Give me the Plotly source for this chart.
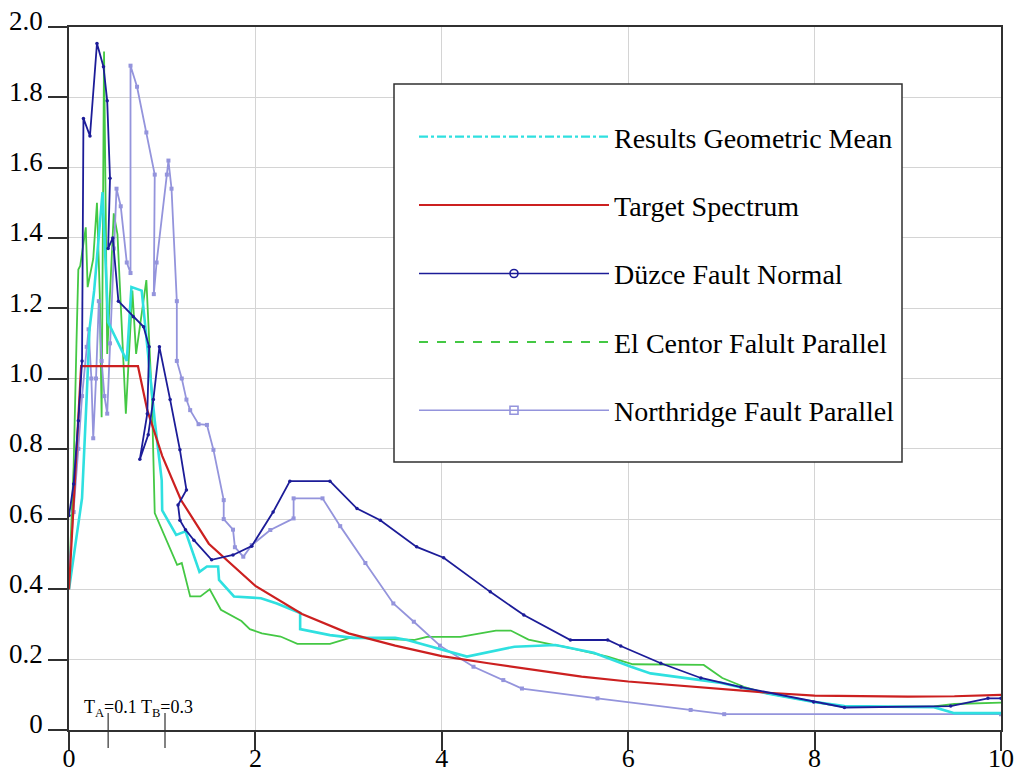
import plotly.graph_objects as go

# ---------------- data ----------------
target_T = [0, 0.13, 0.74, 0.84, 1.0, 1.2, 1.5, 2.0, 2.5, 3.0, 3.5, 4.0, 4.5, 5.0, 5.5,
            6.0, 6.5, 7.0, 7.5, 8.0, 8.5, 9.0, 9.5, 10.0]
target_Sa = [0.40, 1.035, 1.035, 0.91, 0.78, 0.655, 0.53, 0.41, 0.33, 0.275, 0.24, 0.21, 0.19,
             0.17, 0.152, 0.138, 0.127, 0.117, 0.106, 0.098, 0.096, 0.095, 0.096, 0.10]

mean_T = [0, 0.14, 0.19, 0.22, 0.27, 0.36, 0.42, 0.62, 0.67, 0.78, 0.92, 0.995, 1.0, 1.15, 1.25,
          1.40, 1.48, 1.60, 1.61, 1.77, 2.06, 2.23, 2.48, 2.48, 2.80, 3.05, 3.50, 3.63, 4.27,
          4.78, 5.22, 5.63, 6.03, 6.24, 6.78, 7.0, 7.49, 7.99, 8.32, 9.28, 9.5, 10.0]
mean_Sa = [0.40, 0.66, 0.95, 1.14, 1.25, 1.53, 1.16, 1.05, 1.26, 1.25, 0.88, 0.71, 0.625, 0.555,
           0.565, 0.45, 0.465, 0.465, 0.427, 0.38, 0.375, 0.36, 0.333, 0.287, 0.27, 0.262, 0.262,
           0.256, 0.209, 0.237, 0.242, 0.22, 0.18, 0.161, 0.142, 0.134, 0.104, 0.08, 0.068,
           0.065, 0.048, 0.048]

duzce_T = [0, 0.05, 0.10, 0.14, 0.155, 0.225, 0.30, 0.37, 0.41, 0.44, 0.42, 0.47, 0.53, 0.69,
           0.80, 0.86, 0.84, 0.76, 0.85, 0.905, 0.97, 1.085, 1.19, 1.26, 1.17, 1.19, 1.25, 1.34,
           1.53, 1.76, 1.96, 2.19, 2.37, 2.80, 3.09, 3.34, 3.73, 4.02, 4.52, 4.88, 5.38, 5.78,
           5.92, 6.35, 6.78, 7.21, 7.99, 8.32, 9.46, 9.86, 10.0]
duzce_Sa = [0.61, 0.70, 0.88, 1.05, 1.74, 1.69, 1.953, 1.887, 1.79, 1.57, 1.37, 1.40, 1.22,
            1.176, 1.147, 1.09, 0.90, 0.77, 0.84, 0.94, 1.09, 0.94, 0.797, 0.683, 0.64, 0.597,
            0.57, 0.54, 0.484, 0.498, 0.523, 0.62, 0.708, 0.708, 0.63, 0.597, 0.521, 0.49,
            0.393, 0.327, 0.256, 0.256, 0.239, 0.19, 0.148, 0.122, 0.08, 0.064, 0.068, 0.09, 0.09]

elcentro_T = [0, 0.05, 0.08, 0.10, 0.12, 0.18, 0.20, 0.26, 0.30, 0.33, 0.35, 0.376, 0.41, 0.48,
              0.52, 0.61, 0.68, 0.72, 0.83, 0.89, 0.92, 1.16, 1.21, 1.30, 1.41, 1.51, 1.63,
              1.85, 1.94, 2.07, 2.27, 2.45, 2.80, 3.02, 3.70, 3.84, 4.20, 4.58, 4.74, 4.93,
              5.20, 5.31, 5.78, 6.05, 6.81, 7.01, 7.24, 7.49, 7.99, 8.32, 9.28, 9.5, 10.0]
elcentro_Sa = [0.42, 0.75, 1.10, 1.31, 1.32, 1.43, 1.26, 1.34, 1.50, 1.24, 0.89, 1.93, 1.07,
               1.47, 1.41, 0.90, 1.25, 1.07, 1.28, 0.94, 0.617, 0.47, 0.475, 0.38, 0.38, 0.40,
               0.342, 0.31, 0.287, 0.275, 0.266, 0.245, 0.245, 0.263, 0.256, 0.265, 0.265,
               0.283, 0.283, 0.257, 0.242, 0.237, 0.209, 0.187, 0.185, 0.148, 0.123, 0.104,
               0.08, 0.065, 0.067, 0.074, 0.078]

north_T = [0, 0.05, 0.10, 0.14, 0.19, 0.21, 0.24, 0.26, 0.29, 0.32, 0.35, 0.38, 0.41, 0.44,
           0.48, 0.51, 0.555, 0.62, 0.66, 0.66, 0.73, 0.83, 0.92, 0.91, 0.94, 1.05, 1.067, 1.10,
           1.157, 1.157, 1.21, 1.26, 1.30, 1.39, 1.48, 1.55, 1.66, 1.66, 1.76, 1.78, 1.87,
           1.96, 2.16, 2.41, 2.41, 2.72, 2.91, 3.18, 3.48, 3.70, 3.98, 4.34, 4.66, 4.86, 5.67,
           6.67, 7.03, 10.0]
north_Sa = [0.455, 0.62, 0.80, 0.95, 1.09, 1.14, 1.00, 0.83, 1.00, 1.22, 1.05, 0.95, 0.90, 1.10,
            1.37, 1.54, 1.49, 1.33, 1.30, 1.89, 1.83, 1.70, 1.58, 1.24, 1.33, 1.58, 1.62, 1.54,
            1.22, 1.05, 1.00, 0.94, 0.91, 0.87, 0.868, 0.797, 0.654, 0.60, 0.57, 0.52, 0.493,
            0.526, 0.569, 0.602, 0.659, 0.659, 0.58, 0.475, 0.36, 0.308, 0.24, 0.18, 0.142,
            0.118, 0.09, 0.057, 0.045, 0.045]

x_ticks = [0, 2, 4, 6, 8, 10]
x_tick_text = ["0", "2", "4", "6", "8", "10"]
y_ticks = [0, 0.2, 0.4, 0.6, 0.8, 1.0, 1.2, 1.4, 1.6, 1.8, 2.0]
y_tick_text = ["0", "0.2", "0.4", "0.6", "0.8", "1.0", "1.2", "1.4", "1.6", "1.8", "2.0"]
period_marks = [0.42, 1.03]

names = ["Results Geometric Mean", "Target Spectrum", "Düzce Fault Normal",
         "El Centor Falult Parallel", "Northridge Fault Parallel"]

# ---------------- styles ----------------
C_CYAN = "#2fe0e0"
C_RED = "#cc2020"
C_NAVY = "#1c1c98"
C_GREEN = "#44c844"
C_LAV = "#9494dc"
FONT = "Liberation Serif, Times New Roman, Times, serif"

fig = go.Figure()

# data traces (no legend)
fig.add_trace(go.Scatter(x=elcentro_T, y=elcentro_Sa, mode="lines",
                         line=dict(color=C_GREEN, width=1.8), showlegend=False))
fig.add_trace(go.Scatter(x=north_T, y=north_Sa, mode="lines+markers",
                         line=dict(color=C_LAV, width=1.8),
                         marker=dict(symbol="square", size=4, color=C_LAV), showlegend=False))
fig.add_trace(go.Scatter(x=mean_T, y=mean_Sa, mode="lines",
                         line=dict(color=C_CYAN, width=2.6), showlegend=False))
fig.add_trace(go.Scatter(x=target_T, y=target_Sa, mode="lines",
                         line=dict(color=C_RED, width=2.2), showlegend=False))
fig.add_trace(go.Scatter(x=duzce_T, y=duzce_Sa, mode="lines+markers",
                         line=dict(color=C_NAVY, width=1.8),
                         marker=dict(symbol="circle", size=3.5, color=C_NAVY), showlegend=False))

# legend-only traces
legend_styles = [
    dict(mode="lines", line=dict(color=C_CYAN, width=2.2, dash="dashdot")),
    dict(mode="lines", line=dict(color=C_RED, width=2)),
    dict(mode="lines+markers", line=dict(color=C_NAVY, width=1.6),
         marker=dict(symbol="circle-open", size=8, color=C_NAVY, line=dict(width=1.6))),
    dict(mode="lines", line=dict(color=C_GREEN, width=2, dash="dash")),
    dict(mode="lines+markers", line=dict(color=C_LAV, width=1.6),
         marker=dict(symbol="square-open", size=8, color=C_LAV, line=dict(width=1.6))),
]
for i, (nm, st) in enumerate(zip(names, legend_styles)):
    fig.add_trace(go.Scatter(x=[None], y=[None], name=nm, legendgroup=f"g{i}",
                             showlegend=True, **st))

# plot area: left 69, right 1001, top 27, bottom 730 px
W, H = 1019, 776
L, R, T, B = 69, 18, 27, 46
pw, ph = W - L - R, H - T - B

def px_x(p):
    return (p - L) / pw

def px_y(p):
    return (H - B - p) / ph

shapes = [
    dict(type="rect", xref="paper", yref="paper", x0=px_x(394), x1=px_x(902),
         y0=px_y(462), y1=px_y(84), line=dict(color="#303030", width=1.5),
         fillcolor="white", layer="above"),
]
for m in period_marks:
    shapes.append(dict(type="line", xref="x", yref="paper", x0=m, x1=m,
                       y0=px_y(713), y1=px_y(748), line=dict(color="#303030", width=1.2)))

fig.update_layout(
    width=W, height=H,
    margin=dict(l=L, r=R, t=T, b=B, autoexpand=False),
    paper_bgcolor="white", plot_bgcolor="white",
    font=dict(family=FONT, color="black", size=24),
    shapes=shapes,
    showlegend=True,
    legend=dict(x=px_x(414), y=px_y(112), xanchor="left", yanchor="top",
                bgcolor="rgba(0,0,0,0)", borderwidth=0, itemwidth=190,
                tracegroupgap=29, font=dict(family=FONT, size=28, color="black"),
                itemclick=False, itemdoubleclick=False),
    annotations=[dict(x=0.14, xref="x", y=px_y(708), yref="paper", xanchor="left",
                      yanchor="middle", showarrow=False,
                      text="T<sub>A</sub>=0.1 T<sub>B</sub>=0.3",
                      font=dict(family=FONT, size=18, color="black"))],
)
fig.update_xaxes(range=[0, 10], tickvals=x_ticks, ticktext=x_tick_text, automargin=False,
                 showgrid=True, gridcolor="#d4d4d4", gridwidth=1, zeroline=False,
                 showline=True, linecolor="#303030", linewidth=1.5, mirror=True,
                 ticks="outside", ticklen=19, tickcolor="#303030", tickwidth=1.5,
                 ticklabelstandoff=-15,
                 tickfont=dict(family=FONT, size=26, color="black"))
fig.update_yaxes(range=[0, 2.0], tickvals=y_ticks, ticktext=y_tick_text, automargin=False,
                 showgrid=True, gridcolor="#d4d4d4", gridwidth=1, zeroline=False,
                 showline=True, linecolor="#303030", linewidth=1.5, mirror=True,
                 ticks="outside", ticklen=19, tickcolor="#303030", tickwidth=1.5,
                 ticklabelshift=-6,
                 tickfont=dict(family=FONT, size=27, color="black"))

fig.write_html("out.html")
